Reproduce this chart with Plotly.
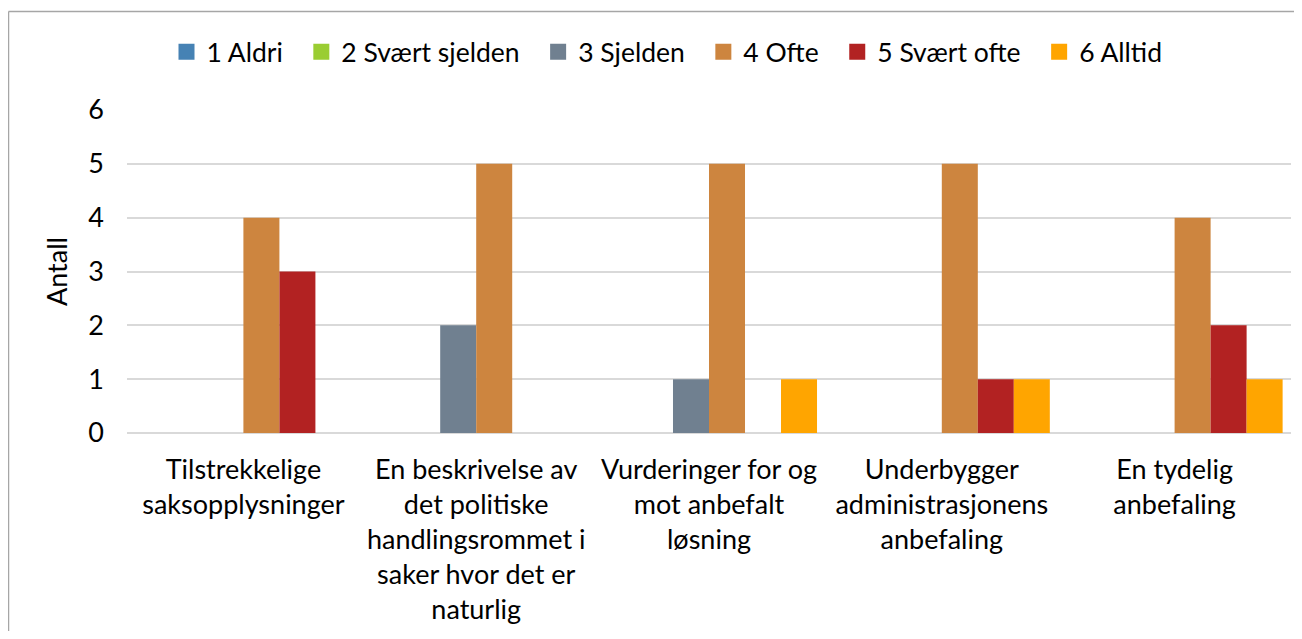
import plotly.graph_objects as go

categories = [
    "Tilstrekkelige<br>saksopplysninger",
    "En beskrivelse av<br>det politiske<br>handlingsrommet i<br>saker hvor det er<br>naturlig",
    "Vurderinger for og<br>mot anbefalt<br>løsning",
    "Underbygger<br>administrasjonens<br>anbefaling",
    "En tydelig<br>anbefaling",
]
series_names = ["1 Aldri", "2 Svært sjelden", "3 Sjelden", "4 Ofte", "5 Svært ofte", "6 Alltid"]
aldri = [0, 0, 0, 0, 0]
svaert_sjelden = [0, 0, 0, 0, 0]
sjelden = [0, 2, 1, 0, 0]
ofte = [4, 5, 5, 5, 4]
svaert_ofte = [3, 0, 0, 1, 2]
alltid = [0, 0, 1, 1, 1]
series_values = [aldri, svaert_sjelden, sjelden, ofte, svaert_ofte, alltid]
colors = ["#4682B4", "#9ACD32", "#708090", "#CD853F", "#B22222", "#FFA500"]
y_ticks = [0, 1, 2, 3, 4, 5, 6]

FONT = "Lato"
OFF = 8  # page body margin
W, H = 1286, 623
L, T = 127 - OFF, 110 - OFF
R = W - (1291 - OFF)
B = H - (433 - OFF)
pw, ph = W - L - R, H - T - B

fig = go.Figure()
x_idx = list(range(len(categories)))
for name, vals, col in zip(series_names, series_values, colors):
    fig.add_trace(go.Bar(
        x=x_idx, y=vals, name=name, legendgroup=name, showlegend=False,
        marker=dict(color=col, line=dict(width=0)),
    ))
# legend entries with larger square swatches
for name, col in zip(series_names, colors):
    fig.add_trace(go.Scatter(
        x=[None], y=[None], mode="markers", name=name + "\u00a0\u00a0", legendgroup=name,
        marker=dict(symbol="square", size=17, color=col, line=dict(width=0)),
        hoverinfo="skip",
    ))

def px_x(p):
    return (p - OFF - L) / pw

def px_y(p):
    return (H - B - (p - OFF)) / ph

border = dict(color="#A6A6A6", width=1.5)
fig.update_layout(
    width=W, height=H,
    margin=dict(l=L, r=R, t=T, b=B, autoexpand=False),
    paper_bgcolor="white", plot_bgcolor="white",
    barmode="group", bargap=0.072, bargroupgap=0,
    font=dict(family=FONT, size=27, color="#000000"),
    showlegend=True,
    legend=dict(
        orientation="h", x=px_x(674), xanchor="center", y=px_y(52), yanchor="middle",
        font=dict(family=FONT, size=26.5, color="#000000"),
        itemwidth=30, traceorder="normal",
    ),
    xaxis=dict(
        tickmode="array", tickvals=x_idx, ticktext=categories,
        range=[-0.5, len(categories) - 0.5],
        showgrid=False, showline=False, zeroline=False, ticks="",
        tickfont=dict(family=FONT, size=27, color="#000000"),
        ticklabelstandoff=18,
    ),
    yaxis=dict(
        range=[0, 6], tickmode="array", tickvals=y_ticks,
        showgrid=True, gridcolor="#D9D9D9", gridwidth=1.5,
        zeroline=True, zerolinecolor="#D9D9D9", zerolinewidth=1.5,
        showline=False, ticks="",
        tickfont=dict(family=FONT, size=27, color="#000000"),
        ticklabelstandoff=22,
        title=dict(text="Antall", font=dict(family=FONT, size=27, color="#000000"), standoff=12),
    ),
    shapes=[
        dict(type="line", xref="paper", yref="paper",
             x0=px_x(8.5), x1=px_x(8.5), y0=px_y(11.5), y1=px_y(700), line=border, layer="below"),
        dict(type="line", xref="paper", yref="paper",
             x0=px_x(8.5), x1=px_x(1340), y0=px_y(11.5), y1=px_y(11.5), line=border, layer="below"),
    ],
)

fig.write_html("out.html")
